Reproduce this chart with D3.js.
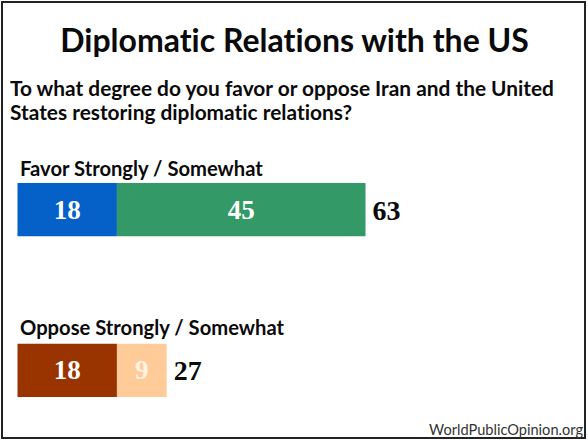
<!DOCTYPE html>
<html>
<head>
<meta charset="utf-8">
<script src="https://d3js.org/d3.v7.min.js"></script>
<style>
html,body{margin:0;padding:0;background:#fff}
svg{display:block}
text{font-family:"Lato","Noto Sans",sans-serif;fill:#0a0a0a;font-variant-ligatures:none}
text.num{font-family:"Liberation Serif",serif}
</style>
</head>
<body>
<script>
var title = "Diplomatic Relations with the US"
var question = ["To what degree do you favor or oppose Iran and the United",
	"States restoring diplomatic relations?"]
var source = "WorldPublicOpinion.org"

var categories = ["Favor Strongly / Somewhat", "Oppose Strongly / Somewhat"]
var strongly = [18, 18]
var somewhat = [45, 9]
var totals = [63, 27]
var stronglyColors = ["#0560c8", "#993300"]
var somewhatColors = ["#339966", "#ffcc99"]
var valueColors = ["#ffffff", "#fff3e4"]

var width = 588
var height = 440

var svg = d3.select("body").append("svg")
	.attr("width", width)
	.attr("height", height)

// frame
svg.append("rect")
	.attr("x", 2).attr("y", 2)
	.attr("width", 583).attr("height", 436)
	.attr("fill", "#fff")
	.attr("stroke", "#222").attr("stroke-width", 2)

svg.append("text")
	.attr("x", 294.5).attr("y", 52)
	.attr("text-anchor", "middle")
	.attr("font-size", 32).attr("font-weight", 700)
	.text(title)

svg.selectAll("text.question")
	.data(question)
	.enter().append("text")
	.attr("class", "question")
	.attr("x", 10)
	.attr("y", function(d, i) {return 96 + i * 24})
	.attr("font-size", 20.85).attr("font-weight", 700)
	.text(function(d) {return d})

var scaleX = d3.scaleLinear().domain([0, 63]).range([17.5, 365.5])
var scaleY = d3.scaleBand().domain(categories).range([183, 397]).paddingInner(107 / 160).paddingOuter(0)

categories.forEach(function(cat, i) {
	var g = svg.append("g").attr("transform", "translate(0," + scaleY(cat) + ")")
	var bh = scaleY.bandwidth()
	var a = strongly[i]
	var b = somewhat[i]

	g.append("text")
		.attr("x", 20).attr("y", i == 0 ? -7 : -9)
		.attr("font-size", 20.2).attr("font-weight", 700)
		.text(cat)

	g.append("rect")
		.attr("x", scaleX(0)).attr("y", 0)
		.attr("width", scaleX(a) - scaleX(0)).attr("height", bh)
		.attr("fill", stronglyColors[i])
	g.append("rect")
		.attr("x", scaleX(a)).attr("y", 0)
		.attr("width", scaleX(a + b) - scaleX(a)).attr("height", bh)
		.attr("fill", somewhatColors[i])

	g.append("text")
		.attr("class", "num")
		.attr("x", (scaleX(0) + scaleX(a)) / 2).attr("y", bh / 2 + 9)
		.attr("text-anchor", "middle")
		.attr("font-size", 27).attr("font-weight", 700)
		.style("fill", valueColors[0])
		.text(a)
	g.append("text")
		.attr("class", "num")
		.attr("x", (scaleX(a) + scaleX(a + b)) / 2).attr("y", bh / 2 + 9)
		.attr("text-anchor", "middle")
		.attr("font-size", 27).attr("font-weight", 700)
		.style("fill", valueColors[i])
		.text(b)
	g.append("text")
		.attr("class", "num")
		.attr("x", scaleX(totals[i]) + 7).attr("y", bh / 2 + 10)
		.attr("font-size", 28).attr("font-weight", 700)
		.text(totals[i])
})

svg.append("text")
	.attr("x", 583).attr("y", 435)
	.attr("text-anchor", "end")
	.attr("font-size", 14.6)
	.style("fill", "#333")
	.text(source)
</script>
</body>
</html>
